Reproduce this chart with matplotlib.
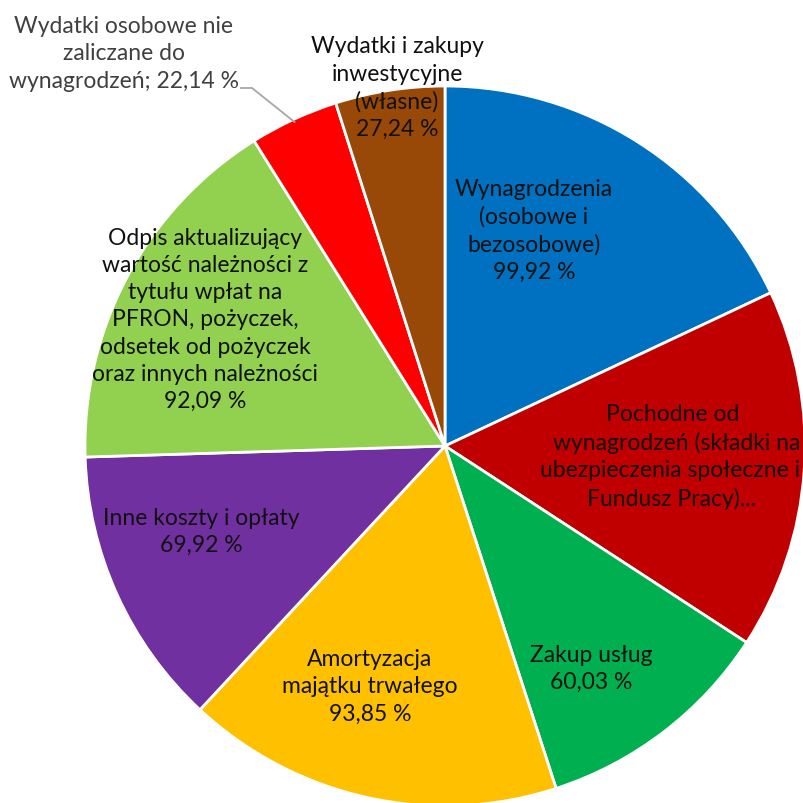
import matplotlib
matplotlib.use("Agg")
import matplotlib.pyplot as plt
import numpy as np

plt.rcParams['font.family'] = ['Lato', 'DejaVu Sans']

# Execution rate of cost items (%)
categories = [
    "Wynagrodzenia (osobowe i bezosobowe)",
    "Pochodne od wynagrodzeń (składki na ubezpieczenia społeczne i Fundusz Pracy)",
    "Zakup usług",
    "Amortyzacja majątku trwałego",
    "Inne koszty i opłaty",
    "Odpis aktualizujący wartość należności z tytułu wpłat na PFRON, pożyczek, odsetek od pożyczek oraz innych należności",
    "Wydatki osobowe nie zaliczane do wynagrodzeń",
    "Wydatki i zakupy inwestycyjne (własne)",
]
values = [99.92, 89.85, 60.03, 93.85, 69.92, 92.09, 22.14, 27.24]
colors = ["#0070C0", "#C00000", "#00B050", "#FFC000", "#7030A0",
          "#92D050", "#FF0000", "#984807"]

def pct(v):
    return f"{v:.2f}".replace(".", ",") + " %"

W = H = 804
fig = plt.figure(figsize=(W / 100, H / 100), dpi=100)
ax = fig.add_axes([0, 0, 1, 1])

cx, cy, R = 445, 447, 360  # pie centre and radius in pixels
wedges, _ = ax.pie(values, colors=colors, startangle=90, counterclock=False,
                   radius=1.0,
                   wedgeprops=dict(edgecolor="white", linewidth=2.0))
ax.set_xlim(-cx / R, (W - cx) / R)
ax.set_ylim(-(H - cy) / R, cy / R)
ax.set_aspect("equal")
ax.axis("off")

def fpos(px, py):
    return px / W, 1 - py / H

inside = "#111111"
outside = "#404040"
fs = 16.5
ls = 1.36

labels = [
    ("Wynagrodzenia\n(osobowe i\nbezosobowe)\n" + pct(values[0]), 534, 231, inside),
    ("Zakup usług\n" + pct(values[2]), 591, 669, inside),
    ("Amortyzacja\nmajątku trwałego\n" + pct(values[3]), 370, 687, inside),
    ("Inne koszty i opłaty\n" + pct(values[4]), 201, 532, inside),
    ("Odpis aktualizujący\nwartość należności z\ntytułu wpłat na\nPFRON, pożyczek,\n"
     "odsetek od pożyczek\noraz innych należności\n" + pct(values[5]), 205, 320, inside),
    ("Wydatki osobowe nie\nzaliczane do\nwynagrodzeń; " + pct(values[6]), 124, 54, outside),
    ("Wydatki i zakupy\ninwestycyjne\n(własne)\n" + pct(values[7]), 397, 88, inside),
]
for text, px, py, col in labels:
    x, y = fpos(px, py)
    fig.text(x, y, text, ha="center", va="center", fontsize=fs,
             linespacing=ls, color=col)

# Long label of the second slice, truncated with an ellipsis
poch_lines = [("Pochodne od", 673, 415),
              ("wynagrodzeń (składki na", 695, 443),
              ("ubezpieczenia społeczne i", 696, 471),
              ("Fundusz Pracy)...", 671, 499)]
renderer = fig.canvas.get_renderer()
for text, px, py in poch_lines:
    x, y = fpos(px, py)
    t = fig.text(x, y, text, ha="center", va="center", fontsize=fs, color=inside)
    bb = t.get_window_extent(renderer)
    over = bb.x1 - (W - 4)
    if over > 0:
        t.set_x((px - over) / W)

# Leader line to the small red slice
w = wedges[6]
mid = np.deg2rad((w.theta1 + w.theta2) / 2)
ex, ey = np.cos(mid) * 0.99, np.sin(mid) * 0.99
x0, y0 = (240 - cx) / R, (cy - 89) / R
x1 = (252 - cx) / R
ax.plot([x0, x1, ex], [y0, y0, ey], color="#A6A6A6", lw=1.3,
        solid_capstyle="butt", clip_on=False)

fig.savefig("out.png", dpi=100)
